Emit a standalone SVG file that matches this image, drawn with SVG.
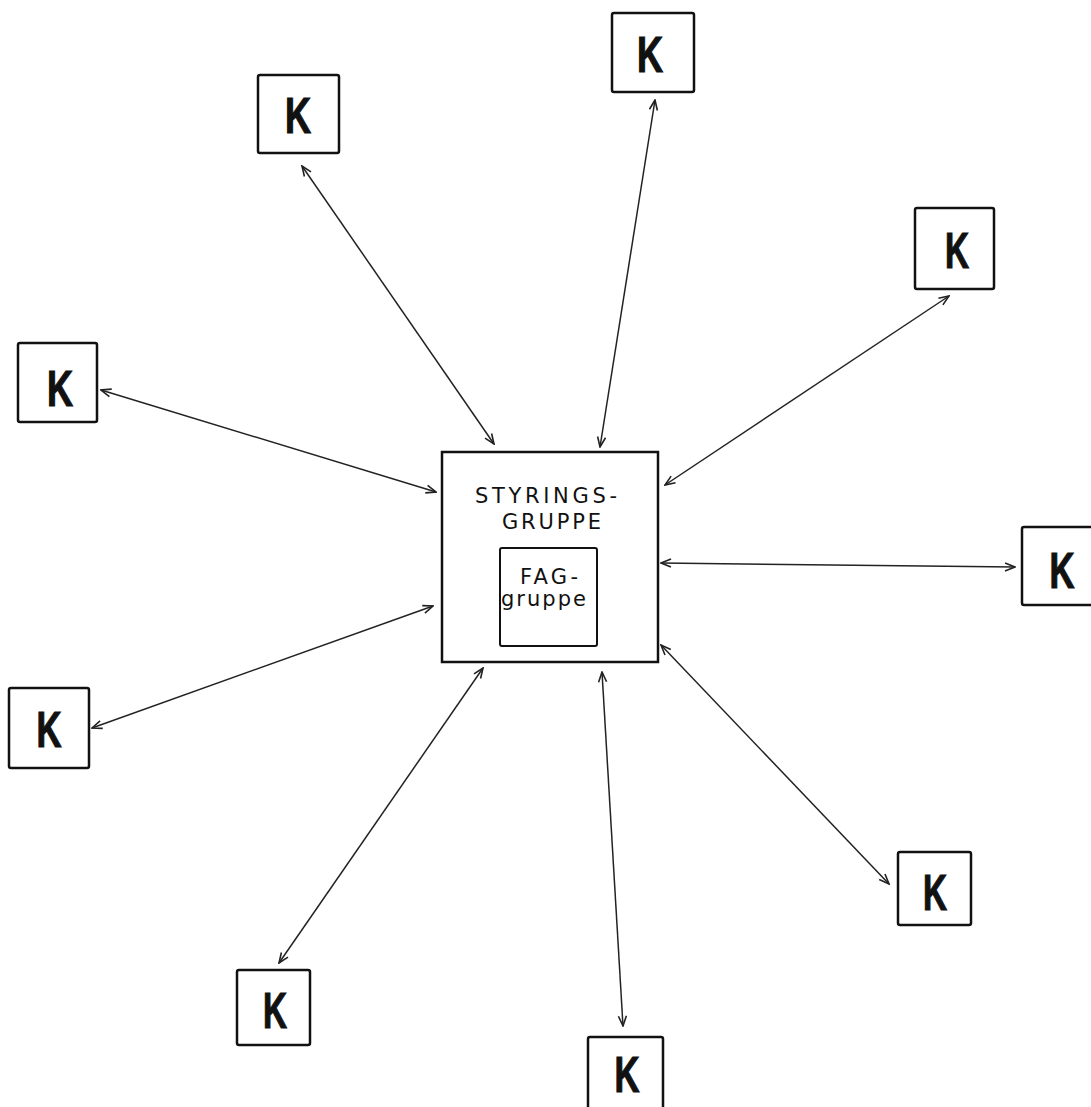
<svg xmlns="http://www.w3.org/2000/svg" width="1091" height="1107" viewBox="0 0 1091 1107">
<style>
.box{fill:#fff;stroke:#111;stroke-width:2.5}
.k{font-family:"Liberation Sans",Arial,sans-serif;font-weight:bold;font-size:50px;fill:#111;stroke:#111;stroke-width:1.2;text-anchor:middle}
.lbl{font-family:"DejaVu Sans","Liberation Sans",sans-serif;font-size:21px;fill:#111}
.ln{stroke:#222;stroke-width:1.5;fill:none;marker-start:url(#ah);marker-end:url(#ah)}
</style>
<defs>
<marker id="ah" viewBox="0 0 12 10" refX="11" refY="5" markerWidth="12" markerHeight="10" markerUnits="userSpaceOnUse" orient="auto-start-reverse">
<path d="M1,1 L11,5 L1,9" fill="none" stroke="#222" stroke-width="1.6"/>
</marker>
</defs>
<rect width="1091" height="1107" fill="#fff"/>
<g id="connectors">
<line class="ln" x1="302" y1="166" x2="494" y2="444"/>
<line class="ln" x1="655" y1="100" x2="600" y2="447"/>
<line class="ln" x1="101" y1="390" x2="436" y2="492"/>
<line class="ln" x1="949" y1="296" x2="665" y2="485"/>
<line class="ln" x1="661" y1="563" x2="1015" y2="567"/>
<line class="ln" x1="92" y1="728" x2="433" y2="606"/>
<line class="ln" x1="279" y1="963" x2="483" y2="668"/>
<line class="ln" x1="623" y1="1026" x2="602" y2="672"/>
<line class="ln" x1="889" y1="884" x2="661" y2="645"/>
</g>
<g id="styringsgruppe">
<rect class="box" x="442" y="452" width="216" height="210"/>
<text class="lbl" x="475" y="503" textLength="142" lengthAdjust="spacing">STYRINGS-</text>
<text class="lbl" x="502" y="529" textLength="99" lengthAdjust="spacing">GRUPPE</text>
</g>
<g id="faggruppe">
<rect class="box" x="500" y="548" width="97" height="98" rx="2" style="stroke-width:2"/>
<text class="lbl" x="520" y="584" textLength="58" lengthAdjust="spacing">FAG-</text>
<text class="lbl" x="501" y="606" textLength="85" lengthAdjust="spacing">gruppe</text>
</g>
<g id="k1"><rect class="box" x="258" y="75" width="81" height="78" rx="2"/><text class="k" x="298" y="133" textLength="26" lengthAdjust="spacingAndGlyphs">K</text></g>
<g id="k2"><rect class="box" x="612" y="13" width="82" height="79" rx="2"/><text class="k" x="650" y="72" textLength="26" lengthAdjust="spacingAndGlyphs">K</text></g>
<g id="k3"><rect class="box" x="18" y="343" width="79" height="79" rx="2"/><text class="k" x="60" y="406" textLength="26" lengthAdjust="spacingAndGlyphs">K</text></g>
<g id="k4"><rect class="box" x="915" y="208" width="79" height="81" rx="2"/><text class="k" x="957" y="268" textLength="24" lengthAdjust="spacingAndGlyphs">K</text></g>
<g id="k5"><rect class="box" x="1022" y="527" width="80" height="78" rx="2"/><text class="k" x="1062" y="588" textLength="25" lengthAdjust="spacingAndGlyphs">K</text></g>
<g id="k6"><rect class="box" x="9" y="688" width="80" height="80" rx="2"/><text class="k" x="49" y="747" textLength="25" lengthAdjust="spacingAndGlyphs">K</text></g>
<g id="k7"><rect class="box" x="898" y="852" width="73" height="73" rx="2"/><text class="k" x="935" y="910" textLength="24" lengthAdjust="spacingAndGlyphs">K</text></g>
<g id="k8"><rect class="box" x="237" y="970" width="73" height="75" rx="2"/><text class="k" x="275" y="1028" textLength="24" lengthAdjust="spacingAndGlyphs">K</text></g>
<g id="k9"><rect class="box" x="588" y="1037" width="75" height="80" rx="2"/><text class="k" x="627" y="1092" textLength="25" lengthAdjust="spacingAndGlyphs">K</text></g>
</svg>
